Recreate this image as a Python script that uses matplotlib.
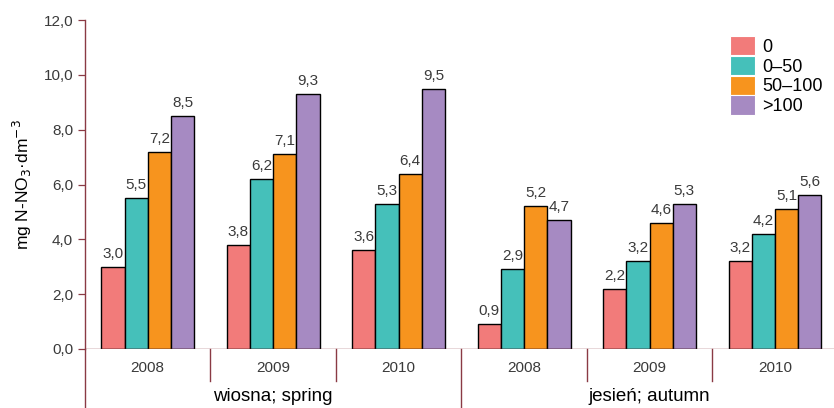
import numpy as np
import matplotlib.pyplot as plt
from matplotlib.patches import Patch

# data
years = ["2008", "2009", "2010", "2008", "2009", "2010"]
seasons = ["wiosna; spring", "jesień; autumn"]
series_names = ["0", "0–50", "50–100", ">100"]
s0 = [3.0, 3.8, 3.6, 0.9, 2.2, 3.2]
s50 = [5.5, 6.2, 5.3, 2.9, 3.2, 4.2]
s100 = [7.2, 7.1, 6.4, 5.2, 4.6, 5.1]
s_over = [8.5, 9.3, 9.5, 4.7, 5.3, 5.6]
colors = ["#F27B7A", "#45C0BA", "#F7941E", "#A68AC2"]

line_col = "#8A3A44"
text_col = "#3A3A3A"

plt.rcParams["font.family"] = ["Liberation Sans", "DejaVu Sans"]

fig = plt.figure(figsize=(8.34, 4.08), dpi=100)
ax = fig.add_axes([85 / 834, 59 / 408, (834 - 85) / 834, 329 / 408])

x = np.arange(len(years))
w = 0.185
for k, vals in enumerate([s0, s50, s100, s_over]):
    pos = x + (k - 1.5) * w
    ax.bar(pos, vals, width=w, color=colors[k], edgecolor="black",
           linewidth=1.0, zorder=3)
    for px, v in zip(pos, vals):
        ax.text(px, v + 0.22, f"{v:.1f}".replace(".", ","), ha="center",
                va="bottom", fontsize=11, color=text_col)

ax.set_xlim(-0.5, 5.47)
ax.set_ylim(0, 12)
ax.set_yticks(np.arange(0, 12.1, 2))
ax.set_yticklabels([f"{t:.1f}".replace(".", ",") for t in np.arange(0, 12.1, 2)])
ax.tick_params(axis="y", colors=line_col, labelcolor=text_col, labelsize=11,
               length=5, width=0.9, direction="out")
ax.set_xticks([])

for side in ["top", "right", "bottom"]:
    ax.spines[side].set_visible(False)
ax.spines["left"].set_color(line_col)
ax.spines["left"].set_linewidth(1.0)
ax.spines["left"].set_bounds(0, 12)

# axis line along y=0 and extended left spine
ax.axhline(0, color=line_col, lw=1.0, zorder=4)
ax.plot([-0.5, -0.5], [0, -2.25], color=line_col, lw=1.0, clip_on=False)

# category separators
for b in [0.5, 1.5, 3.5, 4.5]:
    ax.plot([b, b], [0, -1.15], color=line_col, lw=1.0, clip_on=False)
ax.plot([2.5, 2.5], [0, -2.25], color=line_col, lw=1.0, clip_on=False)

for xi, yr in zip(x, years):
    ax.text(xi, -0.68, yr, ha="center", va="center", fontsize=11, color=text_col)
ax.text(1.0, -1.72, seasons[0], ha="center", va="center", fontsize=13.5, color="black")
ax.text(4.0, -1.72, seasons[1], ha="center", va="center", fontsize=13.5, color="black")

ax.set_ylabel("mg N-NO$_3$·dm$^{-3}$", fontsize=12.5, labelpad=7)

handles = [Patch(facecolor=c, edgecolor="white", linewidth=0.8) for c in colors]
ax.legend(handles, series_names, loc="upper left", bbox_to_anchor=(0.861, 0.951),
          frameon=False, fontsize=13, handlelength=1.38, handleheight=1.27,
          handletextpad=0.4, labelspacing=0.0, borderaxespad=0, borderpad=0)

fig.savefig("out.png", dpi=100)
